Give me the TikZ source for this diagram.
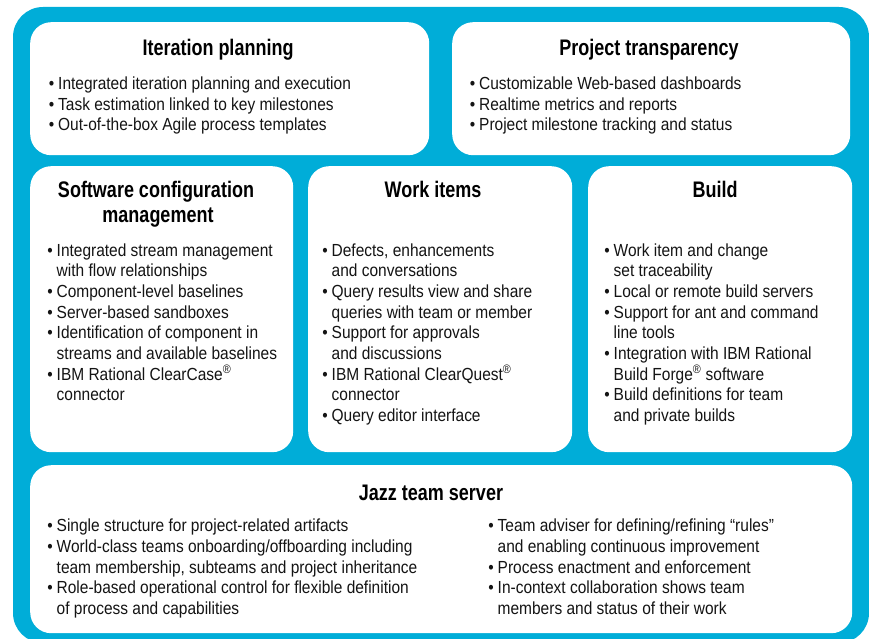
\documentclass[tikz,border=0pt]{standalone}
\usepackage{fontspec}
\setmainfont{Liberation Sans}[FakeStretch=0.885]
\newfontfamily\titlefont{Liberation Sans}[FakeStretch=0.80]
\definecolor{jazzblue}{RGB}{0,173,216}
\definecolor{inkgray}{RGB}{20,20,20}
\newcommand\bl{\llap{\textbullet\hspace{4pt}}}
\newcommand\reg{\textsuperscript{\textregistered}}
\newcommand\itemlines[4]{%
  \foreach \t [count=\i] in {#4}{%
    \node[bodyline, name=#1-\i] at (#2,{#3+(\i-1)*20.7}) {\t};}}
\begin{document}
\begin{tikzpicture}[x=1pt,y=-1pt,
  panel/.style={fill=white, rounded corners=21pt, inner sep=0pt, anchor=north west},
  bodyline/.style={anchor=base west, inner sep=0pt, text=inkgray,
    font=\fontsize{17.5}{20}\selectfont},
  titletext/.style={anchor=base, inner sep=0pt, text=black,
    font=\titlefont\bfseries\fontsize{22.5}{25}\selectfont}]
\useasboundingbox (0,0) rectangle (869,639);
\fill[jazzblue, rounded corners=30pt] (13,7) rectangle (869,643);
% panels
\node[panel, minimum width=399pt, minimum height=133pt] (ip) at (30,22) {};
\node[panel, minimum width=398pt, minimum height=133pt] (pt) at (452,22) {};
\node[panel, minimum width=263pt, minimum height=286pt] (scm) at (30,166) {};
\node[panel, minimum width=264pt, minimum height=286pt] (wi) at (308,166) {};
\node[panel, minimum width=264pt, minimum height=286pt] (bd) at (588,166) {};
\node[panel, minimum width=822pt, minimum height=168pt] (jz) at (30,465) {};
% titles
\node[titletext] (ipT) at (218,56) {Iteration planning};
\node[titletext] (ptT) at (649,56) {Project transparency};
\node[titletext] (scmT1) at (156,197) {Software configuration};
\node[titletext] (scmT2) at (158,222) {management};
\node[titletext] (wiT) at (433,197) {Work items};
\node[titletext] (bdT) at (715,197) {Build};
\node[titletext] (jzT) at (431,500) {Jazz team server};
% bullet lists
\itemlines{ipL}{58}{89.5}{
  \bl Integrated iteration planning and execution,
  \bl Task estimation linked to key milestones,
  \bl Out-of-the-box Agile process templates}
\itemlines{ptL}{479}{89.5}{
  \bl Customizable Web-based dashboards,
  \bl Realtime metrics and reports,
  \bl Project milestone tracking and status}
\itemlines{scmL}{56.5}{256}{
  \bl Integrated stream management,
  with flow relationships,
  \bl Component-level baselines,
  \bl Server-based sandboxes,
  \bl Identification of component in,
  streams and available baselines,
  \bl IBM Rational ClearCase\reg,
  connector}
\itemlines{wiL}{331.5}{256}{
  {\bl Defects, enhancements},
  and conversations,
  \bl Query results view and share,
  queries with team or member,
  \bl Support for approvals,
  and discussions,
  \bl IBM Rational ClearQuest\reg,
  connector,
  \bl Query editor interface}
\itemlines{bdL}{613.5}{256}{
  \bl Work item and change,
  set traceability,
  \bl Local or remote build servers,
  \bl Support for ant and command,
  line tools,
  \bl Integration with IBM Rational,
  Build Forge\reg\ software,
  \bl Build definitions for team,
  and private builds}
\itemlines{jzL}{56.5}{531.7}{
  \bl Single structure for project-related artifacts,
  \bl World-class teams onboarding/offboarding including,
  {team membership, subteams and project inheritance},
  \bl Role-based operational control for flexible definition,
  of process and capabilities}
\itemlines{jzR}{497.5}{531.7}{
  \bl Team adviser for defining/refining “rules”,
  and enabling continuous improvement,
  \bl Process enactment and enforcement,
  \bl In-context collaboration shows team,
  members and status of their work}
\end{tikzpicture}
\end{document}
